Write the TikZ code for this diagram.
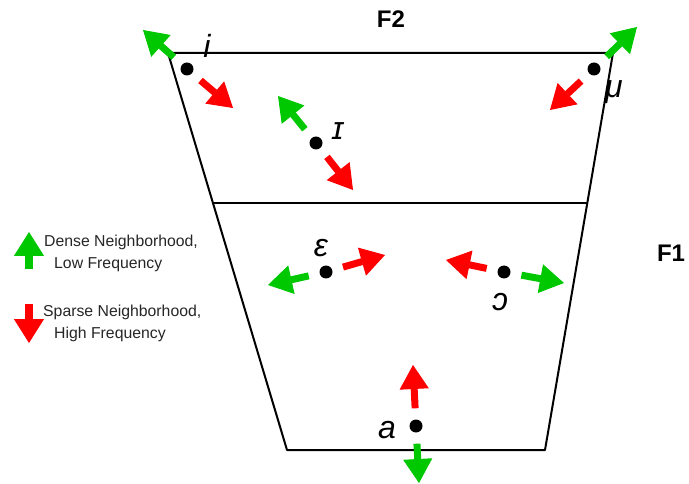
\documentclass[tikz,border=0pt]{standalone}
\usepackage{fontspec}
\setmainfont{Liberation Sans}
\usetikzlibrary{arrows.meta,calc}
\definecolor{dgreen}{RGB}{0,200,0}
\definecolor{dred}{RGB}{255,0,0}
\begin{document}
\begin{tikzpicture}[x=1pt,y=-1pt,
  frame/.style={line width=2pt,line cap=round,line join=round},
  dot/.style={circle,fill=black,minimum size=13pt,inner sep=0pt},
  garrow/.style={draw=dgreen,line width=7pt,shorten <=11pt,-{Triangle[length=24pt,width=29pt,line width=1pt,fill=dgreen]}},
  rarrow/.style={draw=dred,line width=7pt,shorten <=11pt,-{Triangle[length=24pt,width=29pt,line width=1pt,fill=dred]}},
  legarrow/.style={line width=8pt,-{Triangle[length=24pt,width=30pt,line width=1pt]}},
  vowel/.style={inner sep=0pt,font=\fontsize{32}{34}\selectfont\itshape},
  legtext/.style={inner sep=0pt,anchor=west,font=\fontsize{15.8}{17}\selectfont,text=black!85},
  flabel/.style={inner sep=0pt,font=\fontsize{24}{26}\selectfont\bfseries}]
\useasboundingbox (0,0) rectangle (689,484);
% frame
\coordinate (tl) at (168,53);
\coordinate (tr) at (613,53);
\coordinate (ml) at (213,203);
\coordinate (mr) at (587,203);
\coordinate (bl) at (287,450);
\coordinate (br) at (545,450);
\draw[frame] (tl) -- (tr) -- (br) -- (bl) -- cycle;
\draw[frame] (ml) -- (mr);
% labels F
\node[flabel] (f2) at (391,19) {F2};
\node[flabel] (f1) at (671,253) {F1};
% dots
\node[dot] (di) at (187,69) {};
\node[dot] (dI) at (316,143) {};
\node[dot] (du) at (594,69) {};
\node[dot] (de) at (326,272) {};
\node[dot] (do) at (504,272) {};
\node[dot] (da) at (416,426) {};
% tips
\coordinate (gi) at (143,30);
\coordinate (ri) at (233,108);
\coordinate (gI) at (278,96);
\coordinate (rI) at (353,190);
\coordinate (gu) at (637,27);
\coordinate (ru) at (550,110);
\coordinate (ge) at (268,285);
\coordinate (re) at (385,255);
\coordinate (go) at (564,283);
\coordinate (ro) at (446,260);
\coordinate (ga) at (419,483);
\coordinate (ra) at (413,365);
\draw[garrow] (di) -- (gi);
\draw[rarrow] (di) -- (ri);
\draw[garrow] (dI) -- (gI);
\draw[rarrow] (dI) -- (rI);
\draw[garrow] (du) -- (gu);
\draw[rarrow] (du) -- (ru);
\draw[garrow] (de) -- (ge);
\draw[rarrow] (de) -- (re);
\draw[garrow] (do) -- (go);
\draw[rarrow] (do) -- (ro);
\draw[garrow] (da) -- (ga);
\draw[rarrow] (da) -- (ra);
% vowel labels
\node[vowel] (li) at (207,46) {i};
\node[vowel] (lI) at (338,131) {ɪ};
\node[vowel] (lu) at (614,92) {μ};
\node[vowel] (le) at (321,248) {ɛ};
\node[vowel] (lo) at (500,302) {ɔ};
\node[vowel] (la) at (387,430) {a};
% legend
\coordinate (lgb) at (29,269);
\coordinate (lgt) at (29,232);
\coordinate (lrt) at (29,304);
\coordinate (lrb) at (29,343);
\draw[legarrow,draw=dgreen,fill=dgreen] (lgb) -- (lgt);
\draw[legarrow,draw=dred,fill=dred] (lrt) -- (lrb);
\node[legtext] (t1) at (44,242) {Dense Neighborhood,};
\node[legtext] (t2) at (54,265) {Low Frequency};
\node[legtext] (t3) at (43,312) {Sparse Neighborhood,};
\node[legtext] (t4) at (54,334) {High Frequency};
\end{tikzpicture}
\end{document}
